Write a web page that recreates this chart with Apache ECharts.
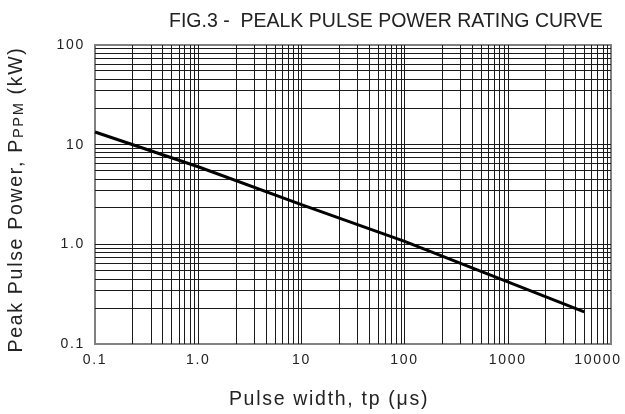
<!DOCTYPE html>
<html>
<head>
<meta charset="utf-8">
<script src="https://cdn.jsdelivr.net/npm/echarts@6/dist/echarts.min.js"></script>
<style>html,body{margin:0;padding:0;background:#fff}#c{width:625px;height:414px}</style>
</head>
<body>
<div id="c"></div>
<script>
// ---- data ----
const xTickValues = [0.1, 1, 10, 100, 1000, 10000];
const xTickLabels = ['0.1', '1.0', '10', '100', '1000', '10000'];
const yTickValues = [0.1, 1, 10, 100];
const yTickLabels = ['0.1', '1.0', '10', '100'];
// minor grid lines inside each decade (multipliers as drawn in the figure)
const minorGridMultipliers = [2.33, 3.48, 4.53, 5.53, 6.47, 7.40, 8.32, 9.23];
const xDecades = [0.1, 1, 10, 100, 1000];
const yDecades = [0.1, 1, 10];
// curve: pulse width (µs) -> peak pulse power (kW)
const pulseWidth = [0.1, 1, 10, 100, 1000, 5500];
const peakPower  = [13.4, 6.0, 2.5, 1.07, 0.42, 0.21];

// ---- letter spacing support (text in the figure is spaced out) ----
function spacingFor(font) { return /Arial/.test(font) ? '1.7px' : '0px'; }
const measureCtx = document.createElement('canvas').getContext('2d');
if (echarts.setPlatformAPI) {
  echarts.setPlatformAPI({
    measureText: function (text, font) {
      measureCtx.font = font;
      if ('letterSpacing' in measureCtx) measureCtx.letterSpacing = spacingFor(measureCtx.font);
      return measureCtx.measureText(text);
    }
  });
}
const origFill = CanvasRenderingContext2D.prototype.fillText;
CanvasRenderingContext2D.prototype.fillText = function (t, x, y, mw) {
  if ('letterSpacing' in this) this.letterSpacing = spacingFor(this.font);
  return mw === undefined ? origFill.call(this, t, x, y) : origFill.call(this, t, x, y, mw);
};

const FAM = "'Liberation Sans', Arial, sans-serif";
const TITLE_FAM = "'Liberation Sans', sans-serif";

function lookupIndex(values, v) {
  for (let i = 0; i < values.length; i++) {
    if (Math.abs(Math.log10(v) - Math.log10(values[i])) < 1e-6) return i;
  }
  return -1;
}

const minorX = [], minorY = [];
xDecades.forEach(d => minorGridMultipliers.forEach(m => minorX.push({ xAxis: d * m })));
yDecades.forEach(d => minorGridMultipliers.forEach(m => minorY.push({ yAxis: d * m })));

const chart = echarts.init(document.getElementById('c'), null, { renderer: 'canvas' });
chart.setOption({
  animation: false,
  backgroundColor: '#fff',
  title: {
    text: 'FIG.3 -  PEALK PULSE POWER RATING CURVE',
    left: 164, top: 7,
    textStyle: { fontFamily: TITLE_FAM, fontSize: 19.5, fontWeight: 'normal', color: '#222' }
  },
  grid: { left: 95, right: 14, top: 45, bottom: 70, outerBoundsMode: 'none', containLabel: false,
    show: true, borderColor: '#808080', borderWidth: 2, backgroundColor: 'transparent' },
  xAxis: {
    type: 'log', logBase: 10, min: 0.1, max: 10000, splitNumber: 5,
    axisLine: { show: false }, axisTick: { show: false },
    splitLine: { show: true, showMinLine: false, showMaxLine: false, lineStyle: { color: '#1a1a1a', width: 1 } },
    axisLabel: { fontFamily: FAM, fontSize: 14, color: '#222', margin: 8, hideOverlap: false,
      formatter: v => {
        const i = lookupIndex(xTickValues, v);
        if (i < 0) return '';
        return i === xTickValues.length - 1 ? '{r|' + xTickLabels[i] + '}' : xTickLabels[i];
      },
      rich: { r: { fontFamily: FAM, fontSize: 14, color: '#222', padding: [0, 26, 0, 0] } } },
    name: 'Pulse width, tp (μs)', nameLocation: 'middle', nameGap: 45,
    nameTextStyle: { fontFamily: FAM, fontSize: 19.5, color: '#222', padding: [0, 48, 0, 0] }
  },
  yAxis: {
    type: 'log', logBase: 10, min: 0.1, max: 100, splitNumber: 3,
    axisLine: { show: false }, axisTick: { show: false },
    splitLine: { show: true, showMinLine: false, showMaxLine: false, lineStyle: { color: '#1a1a1a', width: 1 } },
    axisLabel: { fontFamily: FAM, fontSize: 14, color: '#222', margin: 10,
      formatter: v => { const i = lookupIndex(yTickValues, v); return i < 0 ? '' : yTickLabels[i]; } },
    name: 'Peak Pulse Power, P{s|PPM} (kW)', nameLocation: 'middle', nameGap: 68, nameRotate: 90,
    nameTextStyle: { fontFamily: FAM, fontSize: 19.5, color: '#222', padding: [0, 10, 0, 0],
      lineHeight: 20, verticalAlign: 'bottom',
      rich: { s: { fontFamily: FAM, fontSize: 14.5, color: '#222', lineHeight: 15, verticalAlign: 'bottom' } } }
  },
  series: [
    {
      type: 'line', data: [], z: 1, silent: true,
      markLine: {
        silent: true, symbol: 'none', animation: false,
        label: { show: false },
        lineStyle: { color: '#1a1a1a', width: 1, type: 'solid' },
        emphasis: { disabled: true },
        data: minorX.concat(minorY)
      }
    },
    {
      type: 'line', z: 5, symbol: 'none', silent: true,
      lineStyle: { color: '#000', width: 3 },
      data: pulseWidth.map((x, i) => [x, peakPower[i]])
    }
  ]
});
</script>
</body>
</html>
